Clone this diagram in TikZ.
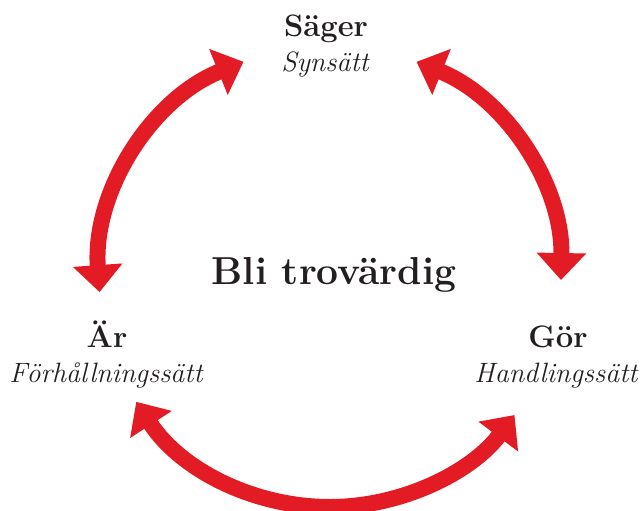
\documentclass[tikz,border=0pt]{standalone}
\usetikzlibrary{arrows.meta,calc}
\definecolor{arrowred}{HTML}{E21B24}
\definecolor{ink}{HTML}{231F20}
\begin{document}
\begin{tikzpicture}[x=1pt,y=1pt,
  bigarrow/.style={draw=arrowred,line width=16pt,
    {Triangle[width=48pt,length=27pt]}-{Triangle[width=48pt,length=27pt]}},
  headlbl/.style={text=ink,font=\bfseries\fontsize{31}{34}\selectfont,inner sep=0pt,anchor=base},
  sublbl/.style={text=ink,font=\itshape\fontsize{28}{30}\selectfont,inner sep=0pt,anchor=base},
  centerlbl/.style={text=ink,font=\bfseries\fontsize{39}{42}\selectfont,inner sep=0pt,anchor=base}]
\useasboundingbox (0,0) rectangle (640,-511);
\coordinate (c) at (330,-276);
% labels
\node[headlbl] (sager) at (326,-37) {Säger};
\node[sublbl] (synsatt) at (325,-72) {Synsätt};
\node[headlbl] (ar) at (107,-347) {Är};
\node[sublbl] (forh) at (106,-382) {Förhållningssätt};
\node[headlbl] (gor) at (558,-347) {Gör};
\node[sublbl] (handl) at (556,-382) {Handlingssätt};
\node[centerlbl] (bli) at (334,-284) {Bli trovärdig};
% arrow end points
\coordinate (lA) at ($(c)+(184:231)$);
\coordinate (rA) at ($(c)+(68:231)$);
\coordinate (bA) at ($(c)+(213:231)$);
\draw[bigarrow] (lA) arc[start angle=184,end angle=112,radius=231];
\draw[bigarrow] (rA) arc[start angle=68,end angle=-1,radius=231];
\draw[bigarrow] (bA) arc[start angle=213,end angle=323,radius=231];
\end{tikzpicture}
\end{document}
